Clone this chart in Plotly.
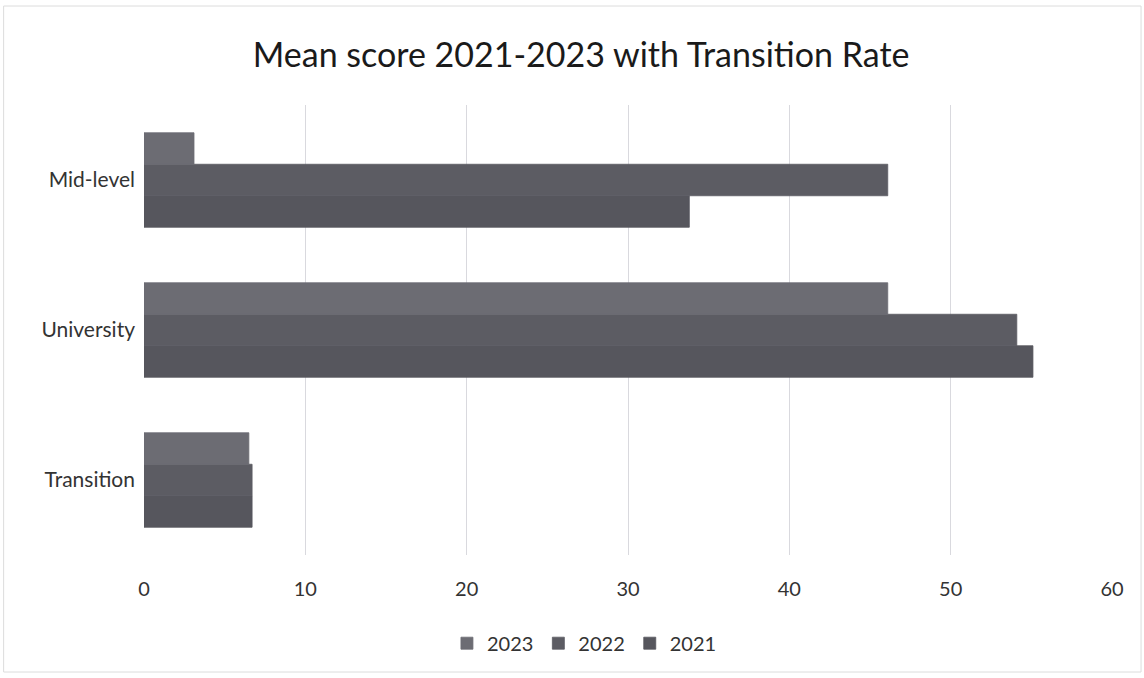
import plotly.graph_objects as go

categories = ["Transition", "University", "Mid-level"]
years = ["2021", "2022", "2023"]
values_2021 = [6.7, 55.1, 33.8]
values_2022 = [6.7, 54.1, 46.1]
values_2023 = [6.5, 46.1, 3.1]
x_ticks = [0, 10, 20, 30, 40, 50, 60]

series = {"2021": values_2021, "2022": values_2022, "2023": values_2023}
colors = {"2021": "#56565d", "2022": "#5c5c63", "2023": "#6c6c73"}

fig = go.Figure()
for yr in years:
    fig.add_trace(go.Bar(
        y=categories, x=series[yr], name=yr, orientation="h",
        marker=dict(color=colors[yr], line=dict(width=0.8, color=colors[yr])),
    ))

font_family = "Lato, 'Open Sans', sans-serif"
fig.update_layout(
    width=1144, height=678,
    barmode="group", bargap=0.37, bargroupgap=0,
    paper_bgcolor="white", plot_bgcolor="white",
    margin=dict(l=144, r=32, t=105, b=123),
    title=dict(text="Mean score 2021-2023 with Transition Rate",
               x=0.508, xanchor="center", y=0.918, yanchor="middle",
               font=dict(family=font_family, size=34, color="#1a1a1a")),
    font=dict(family=font_family, color="#333333", size=20),
    legend=dict(orientation="h", x=0.455, xanchor="center", y=-0.196, yanchor="middle",
                traceorder="reversed", font=dict(size=20, color="#333333"),
                itemwidth=30),
    xaxis=dict(range=[0, 60], tickvals=x_ticks, showgrid=True, gridcolor="#d9d9de",
               gridwidth=1, zeroline=False, showline=False,
               ticklabelstandoff=20, tickfont=dict(size=20)),
    yaxis=dict(categoryorder="array", categoryarray=categories, showgrid=False,
               showline=False, ticklabelstandoff=8, tickfont=dict(size=21)),
    shapes=[dict(type="rect", xref="paper", yref="paper", x0=-0.145, x1=1.03,
                 y0=-0.26, y1=1.22, line=dict(color="#dcdcdc", width=1))],
)

fig.write_html("out.html")
